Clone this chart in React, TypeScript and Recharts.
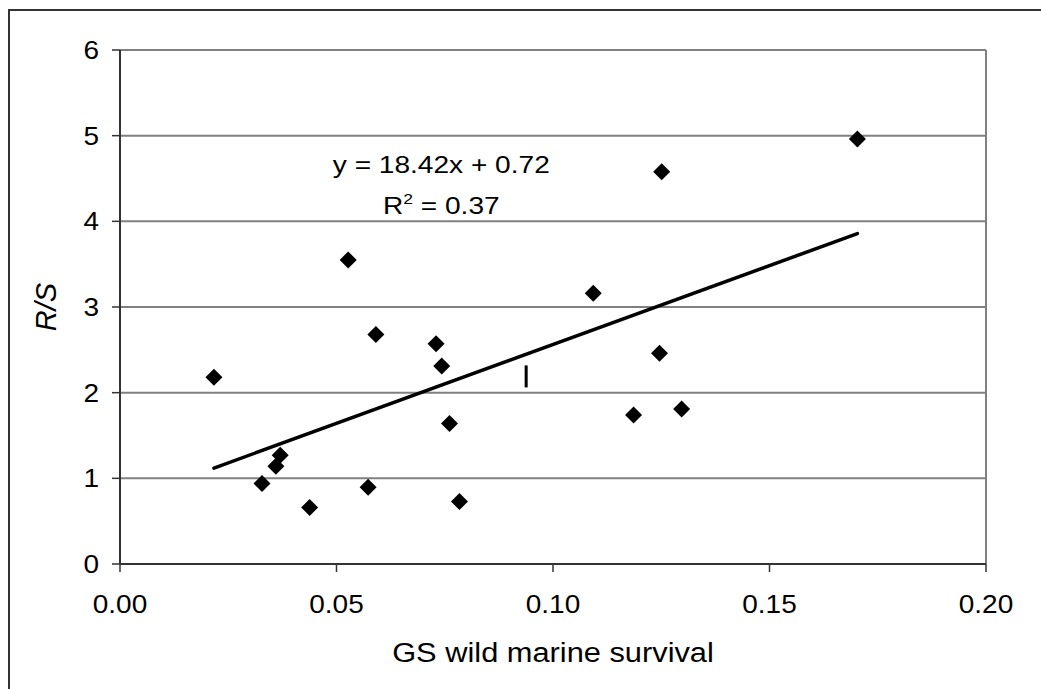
import React from 'react';
import {
  ScatterChart,
  Scatter,
  XAxis,
  YAxis,
  CartesianGrid,
  ReferenceLine,
  ReferenceDot,
} from 'recharts';

// GS wild marine survival (x) and R/S (y)
const survival = [
  0.0217, 0.0328, 0.036, 0.037, 0.0438, 0.0527, 0.0573, 0.0591, 0.073,
  0.0743, 0.0761, 0.0784, 0.1093, 0.1186, 0.1246, 0.1251, 0.1297, 0.1703,
];
const recruitsPerSpawner = [
  2.18, 0.94, 1.14, 1.27, 0.66, 3.55, 0.895, 2.68, 2.57, 2.31, 1.64, 0.73,
  3.16, 1.74, 2.46, 4.58, 1.81, 4.96,
];

const xTicks = [0, 0.05, 0.1, 0.15, 0.2];
const yTicks = [0, 1, 2, 3, 4, 5, 6];

// Trend line as printed on the chart: y = 18.42x + 0.72, R^2 = 0.37
const trendSlope = 18.42;
const trendIntercept = 0.72;
const trendR2 = 0.37;
const trendRange = [0.0217, 0.1703];

const equationAnchor = { x: 0.0742, y: 4.66 };
const strayMark = { x: 0.0938, y: 2.19 };

const points = survival.map((x, i) => ({ x, y: recruitsPerSpawner[i] }));
const trendData = trendRange.map((x) => ({ x, y: trendSlope * x + trendIntercept }));

const FONT = '"Liberation Sans", Arial, Helvetica, sans-serif';
const AXIS_COLOR = '#333333';
const GRID_COLOR = '#808080';

const Diamond = (props: any) => {
  const { cx, cy } = props;
  if (cx == null || cy == null) return null;
  const r = 8.5;
  return (
    <polygon
      points={`${cx},${cy - r} ${cx + r},${cy} ${cx},${cy + r} ${cx - r},${cy}`}
      fill="#000"
    />
  );
};

const XTick = (props: any) => {
  const { x, y, payload } = props;
  return (
    <g transform={`translate(${x},${y})`}>
      <text
        transform="scale(1.12,1)"
        y={39}
        textAnchor="middle"
        fontFamily={FONT}
        fontSize={25}
        fill="#000"
      >
        {Number(payload.value).toFixed(2)}
      </text>
    </g>
  );
};

const YTick = (props: any) => {
  const { x, y, payload } = props;
  return (
    <g transform={`translate(${x},${y})`}>
      <text
        transform="scale(1.12,1)"
        y={9}
        textAnchor="end"
        fontFamily={FONT}
        fontSize={25}
        fill="#000"
      >
        {payload.value}
      </text>
    </g>
  );
};

const XTitle = (props: any) => {
  const vb = props.viewBox || {};
  const cx = vb.x + vb.width / 2;
  return (
    <g transform={`translate(${cx},${vb.y + 98})`}>
      <text
        transform="scale(1.1,1)"
        textAnchor="middle"
        fontFamily={FONT}
        fontSize={28}
        fill="#000"
      >
        GS wild marine survival
      </text>
    </g>
  );
};

const YTitle = (props: any) => {
  const vb = props.viewBox || {};
  const cy = vb.y + vb.height / 2;
  return (
    <g transform={`translate(${56},${cy}) rotate(-90)`}>
      <text
        textAnchor="middle"
        fontFamily={FONT}
        fontSize={29}
        fontStyle="italic"
        fill="#000"
      >
        R/S
      </text>
    </g>
  );
};

const EquationShape = (props: any) => {
  const { cx, cy } = props;
  return (
    <g transform={`translate(${cx},${cy})`}>
      <text
        transform="scale(1.17,1)"
        y={8.5}
        textAnchor="middle"
        fontFamily={FONT}
        fontSize={24}
        fill="#000"
      >
        {`y = ${trendSlope.toFixed(2)}x + ${trendIntercept.toFixed(2)}`}
      </text>
      <text
        transform="scale(1.17,1)"
        y={49}
        textAnchor="middle"
        fontFamily={FONT}
        fontSize={24}
        fill="#000"
      >
        <tspan>R</tspan>
        <tspan dy={-10} fontSize={15}>
          2
        </tspan>
        <tspan dy={10}>{` = ${trendR2.toFixed(2)}`}</tspan>
      </text>
    </g>
  );
};

const StrayMarkShape = (props: any) => {
  const { cx, cy } = props;
  return <rect x={cx - 1.5} y={cy - 11} width={3} height={22} fill="#000" />;
};

export default function App() {
  return (
    <div
      style={{
        position: 'relative',
        width: 1041,
        height: 689,
        overflow: 'hidden',
        background: '#fff',
      }}
    >
      <style>{`html,body{margin:0;padding:0;overflow:hidden;background:#fff}`}</style>
      <div
        style={{
          position: 'absolute',
          left: 8,
          top: 9,
          width: 1200,
          height: 900,
          border: '2px solid #333',
          boxSizing: 'border-box',
          pointerEvents: 'none',
        }}
      />
      <div style={{ position: 'absolute', left: 0, top: 0 }}>
        <ScatterChart
          width={1041}
          height={689}
          margin={{ top: 50, right: 55, left: 0, bottom: 65 }}
        >
          <CartesianGrid
            horizontal={true}
            vertical={false}
            stroke={GRID_COLOR}
            strokeWidth={2}
          />
          <XAxis
            type="number"
            dataKey="x"
            domain={[0, 0.2]}
            ticks={xTicks}
            allowDataOverflow
            height={60}
            tickSize={8}
            tickMargin={2}
            stroke={AXIS_COLOR}
            axisLine={{ stroke: AXIS_COLOR, strokeWidth: 2 }}
            tickLine={{ stroke: AXIS_COLOR, strokeWidth: 1.5 }}
            tick={<XTick />}
            label={{ content: <XTitle /> }}
          />
          <YAxis
            type="number"
            dataKey="y"
            domain={[0, 6]}
            ticks={yTicks}
            allowDataOverflow
            width={120}
            tickSize={8}
            tickMargin={13}
            stroke={AXIS_COLOR}
            axisLine={{ stroke: AXIS_COLOR, strokeWidth: 2 }}
            tickLine={{ stroke: AXIS_COLOR, strokeWidth: 1.5 }}
            tick={<YTick />}
            label={{ content: <YTitle /> }}
          />
          <ReferenceLine x={0.2} stroke={GRID_COLOR} strokeWidth={2} />
          <Scatter
            data={trendData}
            line={{ stroke: '#000', strokeWidth: 3.5, strokeLinecap: 'round' }}
            shape={() => <g />}
            isAnimationActive={false}
          />
          <Scatter data={points} shape={<Diamond />} isAnimationActive={false} />
          <ReferenceDot
            x={equationAnchor.x}
            y={equationAnchor.y}
            r={0}
            shape={<EquationShape />}
          />
          <ReferenceDot
            x={strayMark.x}
            y={strayMark.y}
            r={0}
            shape={<StrayMarkShape />}
          />
        </ScatterChart>
      </div>
    </div>
  );
}
